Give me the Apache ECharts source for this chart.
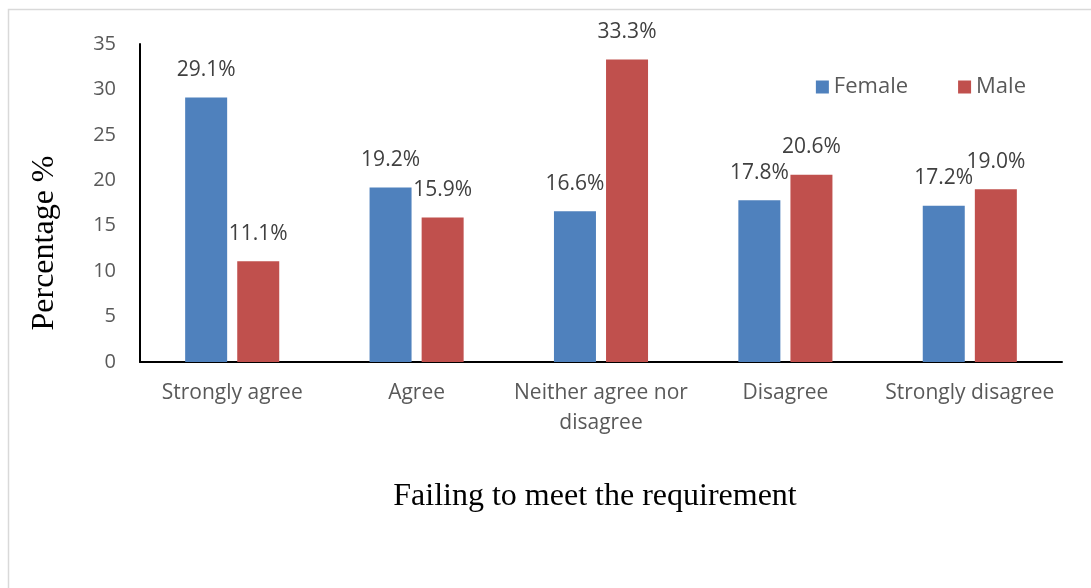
<!DOCTYPE html>
<html>
<head>
<meta charset="utf-8">
<script src="https://cdn.jsdelivr.net/npm/echarts@6/dist/echarts.min.js"></script>
<style>
  html, body { margin: 0; padding: 0; background: #fff; }
  #chart { width: 1091px; height: 588px; }
</style>
</head>
<body>
<div id="chart"></div>
<script>
// Survey responses: "Failing to meet the requirement", by gender (%)
const categories = ['Strongly agree', 'Agree', 'Neither agree nor\ndisagree', 'Disagree', 'Strongly disagree'];
const femaleValues = [29.1, 19.2, 16.6, 17.8, 17.2];
const maleValues = [11.1, 15.9, 33.3, 20.6, 19.0];
const seriesNames = ['Female', 'Male'];
const yTicks = { min: 0, max: 35, interval: 5 };

const sansFont = '"Open Sans", Lato, sans-serif';
const serifFont = '"Liberation Serif", "DejaVu Serif", serif';
const textColor = '#595959';

const chart = echarts.init(document.getElementById('chart'), null, { renderer: 'canvas' });

const barLabel = {
  show: true,
  position: 'top',
  distance: 17,
  color: '#404040',
  fontFamily: sansFont,
  fontSize: 21,
  formatter: p => p.value.toFixed(1) + '%'
};

chart.setOption({
  animation: false,
  backgroundColor: '#fff',
  grid: { left: 140, top: 44, width: 922, height: 318, containLabel: false },
  legend: {
    data: seriesNames,
    right: 60,
    top: 71,
    itemWidth: 13,
    itemHeight: 13,
    itemGap: 50,
    icon: 'rect',
    textStyle: { color: textColor, fontFamily: sansFont, fontSize: 22 }
  },
  xAxis: {
    type: 'category',
    data: categories,
    axisLine: { lineStyle: { color: '#000', width: 2 } },
    axisTick: { show: false },
    axisLabel: {
      color: textColor,
      fontFamily: sansFont,
      fontSize: 21,
      margin: 16,
      lineHeight: 30,
      interval: 0
    },
    name: 'Failing to meet the requirement',
    nameLocation: 'middle',
    nameGap: 119,
    nameTextStyle: { color: '#000', fontFamily: serifFont, fontSize: 32, padding: [0, 12, 0, 0] }
  },
  yAxis: {
    type: 'value',
    min: yTicks.min,
    max: yTicks.max,
    interval: yTicks.interval,
    axisLine: { show: true, lineStyle: { color: '#000', width: 2 } },
    axisTick: { show: false },
    splitLine: { show: false },
    axisLabel: { color: textColor, fontFamily: sansFont, fontSize: 20, margin: 24 }
  },
  graphic: [
    {
      type: 'polyline',
      shape: { points: [[8.5, 588], [8.5, 9.5], [1091, 9.5]] },
      style: { stroke: '#d9d9d9', lineWidth: 1.5, fill: null },
      silent: true
    },
    {
      type: 'text',
      x: 45,
      y: 243,
      rotation: Math.PI / 2,
      style: {
        text: 'Percentage %',
        fill: '#000',
        font: '32px ' + serifFont,
        textAlign: 'center',
        textVerticalAlign: 'middle'
      }
    }
  ],
  series: [
    {
      name: seriesNames[0],
      type: 'bar',
      data: femaleValues,
      barWidth: 42,
      barGap: '24%',
      itemStyle: { color: '#4F81BD' },
      label: barLabel
    },
    {
      name: seriesNames[1],
      type: 'bar',
      data: maleValues,
      barWidth: 42,
      barGap: '24%',
      itemStyle: { color: '#C0504D' },
      label: barLabel
    }
  ]
});
</script>
</body>
</html>
